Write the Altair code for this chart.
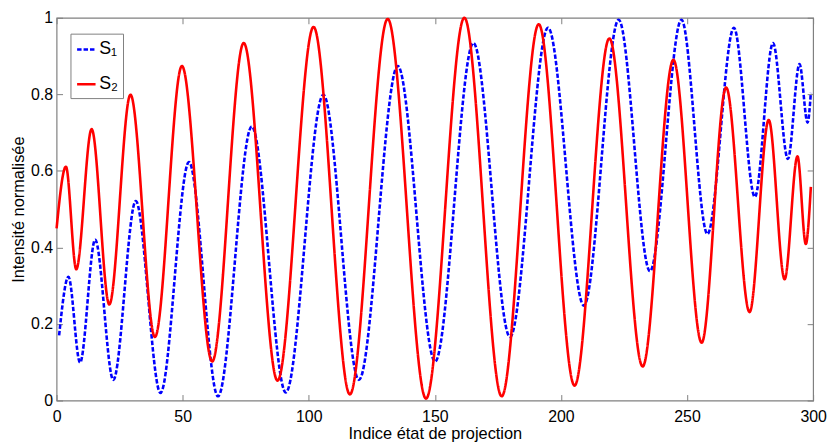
import altair as alt
import pandas as pd

# S1 (blue dashed) : extrema
s1_x = [1, 4.7, 9.3, 15.3, 22.5, 31.4, 41.2, 52.5, 64.0, 77.4, 90.9, 105.8, 119.9, 135.3, 150.1,
        165.3, 179.8, 194.9, 209.1, 222.9, 235.3, 247.8, 258.1, 268.6, 276.9, 284.1, 290.0,
        294.6, 297.8, 299.1]
s1_y = [0.17, 0.323, 0.099, 0.42, 0.054, 0.521, 0.020, 0.623, 0.011, 0.716, 0.021, 0.799, 0.054,
        0.874, 0.102, 0.934, 0.166, 0.974, 0.248, 0.995, 0.338, 0.995, 0.435, 0.974, 0.532,
        0.934, 0.631, 0.879, 0.726, 0.804]

# S2 (red solid)
s2_x = [0, 3.7, 7.8, 13.9, 20.9, 29.3, 39.0, 49.7, 61.7, 74.2, 87.6, 101.9, 116.3, 131.3, 146.5,
        161.7, 176.5, 191.2, 205.4, 219.2, 232.4, 244.6, 255.8, 265.5, 274.8, 282.4, 288.7,
        293.8, 297.1, 299.1]
s2_y = [0.45, 0.611, 0.343, 0.709, 0.251, 0.799, 0.166, 0.874, 0.102, 0.934, 0.052, 0.976, 0.016,
        0.997, 0.005, 1.0, 0.011, 0.983, 0.039, 0.946, 0.089, 0.890, 0.151, 0.818, 0.231,
        0.733, 0.317, 0.638, 0.409, 0.558]

x_ticks = [0, 50, 100, 150, 200, 250, 300]
y_ticks = [0, 0.2, 0.4, 0.6, 0.8, 1]

series_names = ["S\u2081", "S\u2082"]

df = pd.concat([
    pd.DataFrame({"x": s1_x, "y": s1_y, "serie": series_names[0]}),
    pd.DataFrame({"x": s2_x, "y": s2_y, "serie": series_names[1]}),
])

FONT = "Liberation Sans"
GRAY = "#808080"

xscale = alt.Scale(domain=[0, 300], nice=False, zero=False)
yscale = alt.Scale(domain=[0, 1], nice=False)

lines = alt.Chart(df).mark_line(interpolate="monotone", strokeWidth=2.6).encode(
    x=alt.X("x:Q", scale=xscale,
            axis=alt.Axis(values=x_ticks, title="Indice état de projection", offset=-6,
                          tickSize=6, domain=False, labelPadding=8, tickColor=GRAY,
                          grid=False, titlePadding=1, labelFlush=False)),
    y=alt.Y("y:Q", scale=yscale,
            axis=alt.Axis(values=y_ticks, title="Intensité normalisée", offset=-6,
                          tickSize=6, domain=False, labelPadding=4, tickColor=GRAY,
                          grid=False, titlePadding=4, labelFlush=False,
                          labelExpr="datum.value == 0 ? '0' : datum.value == 1 ? '1' : format(datum.value, '.1f')")),
    color=alt.Color("serie:N", scale=alt.Scale(domain=series_names, range=["#0000ff", "#ff0000"]),
                    legend=alt.Legend(title=None, orient="none", legendX=14, legendY=16,
                                      symbolType="stroke", symbolSize=346, symbolStrokeWidth=2.6,
                                      labelFontSize=18, labelFont=FONT, strokeColor=GRAY,
                                      fillColor="white", padding=5, rowPadding=15,
                                      labelOffset=2)),
    strokeDash=alt.StrokeDash("serie:N", scale=alt.Scale(domain=series_names, range=[[4.5, 2], [1, 0]]),
                              legend=None),
    order="x:Q",
)

frame_axes = alt.Chart(df).mark_point(opacity=0).encode(
    x=alt.X("x:Q", scale=xscale,
            axis=alt.Axis(orient="top", values=x_ticks, labels=False, title=None, offset=-6,
                          tickSize=6, domain=False, tickColor=GRAY, grid=False)),
    y=alt.Y("y:Q", scale=yscale,
            axis=alt.Axis(orient="right", values=y_ticks, labels=False, title=None, offset=-6,
                          tickSize=6, domain=False, tickColor=GRAY, grid=False)),
)

chart = alt.layer(lines, frame_axes).resolve_axis(x="independent", y="independent").properties(
    width=826, height=437,
    autosize=alt.AutoSizeParams(type="fit", contains="padding"),
    padding={"left": 2, "top": 0, "right": 0, "bottom": 1},
).configure_view(stroke=GRAY, strokeWidth=1.2).configure_axis(
    labelFont=FONT, titleFont=FONT, labelFontSize=16, titleFontSize=16.5,
    labelColor="black", titleColor="black", titleFontWeight="normal",
)

chart.save("out.html", embed_options={"renderer": "svg", "actions": False})
